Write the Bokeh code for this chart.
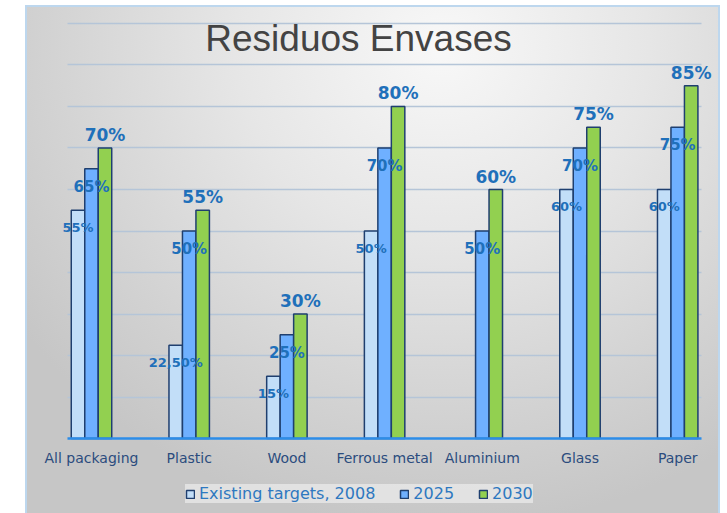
import numpy as np
from bokeh.plotting import figure
from bokeh.models import (ColumnDataSource, Range1d, FixedTicker, Label, Legend, LegendItem)
from bokeh.transform import dodge
from bokeh.core.properties import value
from bokeh.embed import file_html
from bokeh.resources import INLINE

# ---- data ----
categories = ["All packaging", "Plastic", "Wood", "Ferrous metal", "Aluminium", "Glass", "Paper"]
series_names = ["Existing targets, 2008", "2025", "2030"]
existing_2008 = [55, 22.5, 15, 50, np.nan, 60, 60]
target_2025 = [65, 50, 25, 70, 50, 70, 75]
target_2030 = [70, 55, 30, 80, 60, 75, 85]
y_ticks = [0, 10, 20, 30, 40, 50, 60, 70, 80, 90, 100]
title_text = "Residuos Envases"


def fmt(v):
    if v is None or (isinstance(v, float) and np.isnan(v)):
        return ""
    if float(v).is_integer():
        return f"{int(v)}%"
    return f"{v:.2f}".replace(".", ",") + "%"


idx = list(range(len(categories)))
src = ColumnDataSource(dict(
    x=idx,
    s2008=np.array(existing_2008, dtype=float) / 100.0,
    s2025=np.array(target_2025, dtype=float) / 100.0,
    s2030=np.array(target_2030, dtype=float) / 100.0,
    l2008=[fmt(v) for v in existing_2008],
    l2025=[fmt(v) for v in target_2025],
    l2030=[fmt(v) for v in target_2030],
))

W, H = 727, 513
bg = ("linear-gradient(#BDD7EE,#BDD7EE) 25px 5px / 2px 508px no-repeat, "
      "linear-gradient(#BDD7EE,#BDD7EE) 25px 5px / 695px 2px no-repeat, "
      "linear-gradient(#BDD7EE,#BDD7EE) 718px 5px / 2px 508px no-repeat, "
      "radial-gradient(ellipse 75% 95% at 60% 8%, #F8F8F8 0%, #E6E6E6 40%, #D3D3D3 75%, #C6C6C6 100%) 27px 7px / 691px 506px no-repeat, "
      "#FFFFFF")

# axis extent (category index units) and full-canvas ranges
axis_start, axis_end = -0.2456, 6.2436
p = figure(width=W, height=H, output_backend="svg", toolbar_location=None,
           x_range=Range1d(-0.93142, 6.50972), y_range=Range1d(-0.18072, 1.05542),
           min_border_left=0, min_border_right=0, min_border_top=0, min_border_bottom=0)
p.title.visible = False
p.styles = {"background": bg}
p.border_fill_alpha = 0
p.background_fill_alpha = 0
p.outline_line_color = None

bw = 0.138
light_c, blue_c, green_c = "#C2DEF8", "#6FB0FF", "#92D050"
edge = "#1F3F6F"

# grid
p.yaxis.visible = False
p.yaxis.ticker = FixedTicker(ticks=[t / 100.0 for t in y_ticks])
p.xgrid.visible = False
g = p.ygrid[0]
g.grid_line_color = "#B5C5D8"
g.grid_line_width = 1.5
if "cross_bounds" in g.properties():
    g.cross_bounds = (axis_start, axis_end)
else:
    g.visible = False
    yt = [t / 100.0 for t in y_ticks[1:]]
    p.segment(x0=[axis_start] * len(yt), x1=[axis_end] * len(yt), y0=yt, y1=yt,
              line_color="#B5C5D8", line_width=1.5)

r1 = p.vbar(x=dodge("x", -bw), top="s2008", width=bw, bottom=0, source=src,
            fill_color=light_c, line_color=edge, line_width=1.5)
r2 = p.vbar(x=dodge("x", 0), top="s2025", width=bw, bottom=0, source=src,
            fill_color=blue_c, line_color=edge, line_width=1.5)
r3 = p.vbar(x=dodge("x", bw), top="s2030", width=bw, bottom=0, source=src,
            fill_color=green_c, line_color=edge, line_width=1.5)

lab_c = "#1F70BA"
p.text(x=dodge("x", -bw), y="s2008", text="l2008", source=src,
       text_font=value("DejaVu Sans"), text_font_style="bold", text_font_size="13px",
       text_color=lab_c, text_align="center", text_baseline="middle", y_offset=17)
p.text(x=dodge("x", 0), y="s2025", text="l2025", source=src,
       text_font=value("DejaVu Sans"), text_font_style="bold", text_font_size="15px",
       text_color=lab_c, text_align="center", text_baseline="middle", y_offset=18)
p.text(x=dodge("x", bw), y="s2030", text="l2030", source=src,
       text_font=value("DejaVu Sans"), text_font_style="bold", text_font_size="17px",
       text_color=lab_c, text_align="center", text_baseline="bottom", y_offset=-3)

# title inside the plot area
p.add_layout(Label(x=2.733, y=0.9638, text=title_text, text_align="center",
                   text_baseline="alphabetic", text_font="Liberation Sans",
                   text_font_size="37px", text_color="#434343"))

xa = p.xaxis[0]
xa.fixed_location = 0
xa.bounds = (axis_start, axis_end)
xa.ticker = FixedTicker(ticks=idx)
xa.major_label_overrides = {i: c for i, c in zip(idx, categories)}
xa.axis_line_color = "#2C8DE8"
xa.axis_line_width = 2.5
xa.major_tick_line_color = None
xa.minor_tick_line_color = None
xa.major_tick_out = 0
xa.major_label_standoff = 11
xa.major_label_text_font = "DejaVu Sans"
xa.major_label_text_font_size = "14px"
xa.major_label_text_color = "#2B4C7E"

legend = Legend(items=[LegendItem(label=series_names[0], renderers=[r1]),
                       LegendItem(label=series_names[1], renderers=[r2]),
                       LegendItem(label=series_names[2], renderers=[r3])],
                orientation="horizontal", location=(185, 10),
                glyph_width=10, glyph_height=10, label_standoff=4, spacing=24,
                padding=9, margin=0,
                label_text_font="DejaVu Sans", label_text_font_size="16px",
                label_text_color="#2E78C0",
                background_fill_color="#EDEDED", background_fill_alpha=0.7,
                border_line_color=None)
p.add_layout(legend, "center")

open("out.html", "w").write(file_html(p, INLINE))
